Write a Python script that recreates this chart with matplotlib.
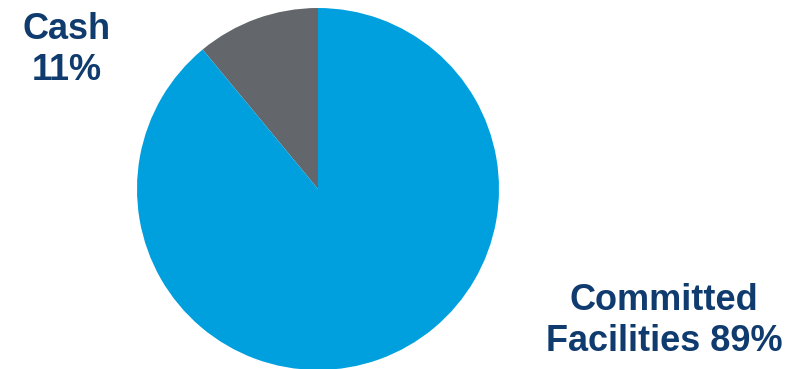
import matplotlib.pyplot as plt

# liquidity mix
categorias = ['Cash', 'Committed Facilities']
percentuais = [11, 89]
rotulos = ['Cash\n11%', 'Committed\nFacilities 89%']
cores = ['#63666a', '#00a0df']
corTexto = '#0f3b6e'

plt.rcParams['font.family'] = ['Liberation Sans', 'DejaVu Sans']

W, H = 801, 369
fig = plt.figure(figsize=(W / 100, H / 100), dpi=100)

# pie centered at (318, 189) px with radius 181 px
cx, cy, r = 318, 189, 181
ax = fig.add_axes([(cx - r) / W, (H - cy - r) / H, 2 * r / W, 2 * r / H])
ax.pie(percentuais, colors=cores, startangle=90, counterclock=True,
       radius=1, wedgeprops={'linewidth': 0})
ax.set_xlim(-1, 1)
ax.set_ylim(-1, 1)
ax.set_aspect('equal')
ax.axis('off')

# labels
fig.text(67 / W, 1 - 50 / H, rotulos[0], ha='center', va='center',
         fontsize=26, fontweight='bold', color=corTexto, linespacing=1.22)
fig.text(664 / W, 1 - 321 / H, rotulos[1], ha='center', va='center',
         fontsize=26, fontweight='bold', color=corTexto, linespacing=1.22,
         multialignment='center')

plt.savefig('out.png', dpi=100)
plt.close()
